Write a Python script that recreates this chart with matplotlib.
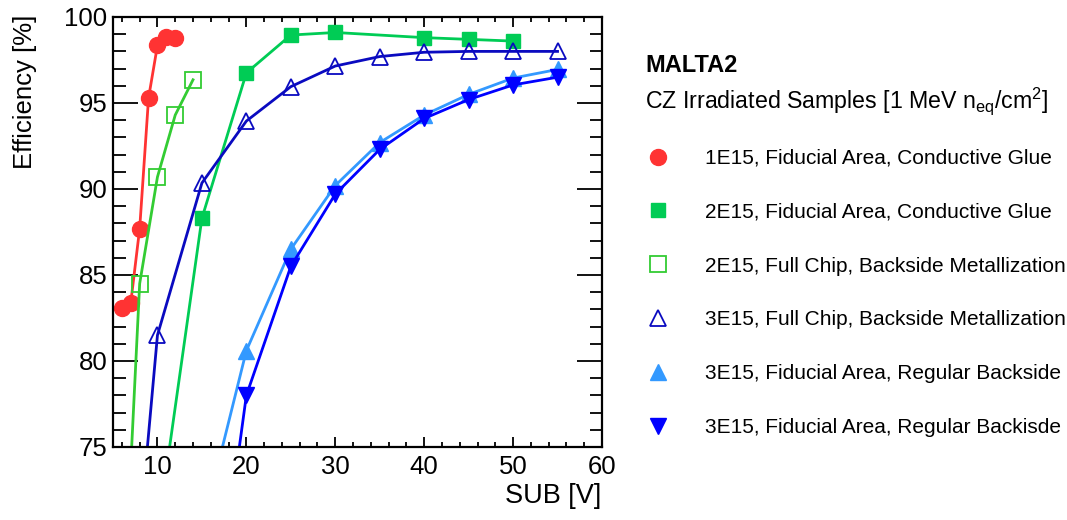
import matplotlib
matplotlib.use("Agg")
import matplotlib.pyplot as plt
from matplotlib.lines import Line2D
from matplotlib.ticker import MultipleLocator

plt.rcParams['font.family'] = ['Liberation Sans', 'DejaVu Sans']
plt.rcParams['mathtext.fontset'] = 'custom'
plt.rcParams['mathtext.rm'] = 'Liberation Sans'
plt.rcParams['mathtext.it'] = 'Liberation Sans'

# ---- data ----
x_1e15_fid = [6, 7, 8, 9, 10, 11, 12]
y_1e15_fid = [83.1, 83.4, 87.7, 95.3, 98.35, 98.85, 98.8]

x_2e15_fid = [10, 15, 20, 25, 30, 40, 45, 50]
y_2e15_fid = [70.0, 88.3, 96.75, 98.95, 99.1, 98.8, 98.7, 98.6]

x_2e15_full = [6, 8, 10, 12, 14]
y_2e15_full = [63.4, 84.5, 90.7, 94.3, 96.35]

x_3e15_full = [8, 10, 15, 20, 25, 30, 35, 40, 45, 50, 55]
y_3e15_full = [70.0, 81.5, 90.35, 93.95, 95.95, 97.15, 97.7, 97.95, 98.0, 98.0, 98.0]

x_3e15_reg = [15, 20, 25, 30, 35, 40, 45, 50, 55]
y_3e15_reg = [70.2, 80.6, 86.5, 90.2, 92.7, 94.3, 95.5, 96.45, 96.95]

x_3e15_reg2 = [15, 20, 25, 30, 35, 40, 45, 50, 55]
y_3e15_reg2 = [59.0, 78.0, 85.5, 89.7, 92.3, 94.1, 95.2, 96.05, 96.5]

labels = [
    "1E15, Fiducial Area, Conductive Glue",
    "2E15, Fiducial Area, Conductive Glue",
    "2E15, Full Chip, Backside Metallization",
    "3E15, Full Chip, Backside Metallization",
    "3E15, Fiducial Area, Regular Backside",
    "3E15, Fiducial Area, Regular Backisde",
]

W, H = 1067, 520
fig = plt.figure(figsize=(W / 100, H / 100), dpi=100)
ax = fig.add_axes([113 / W, 1 - 447 / H, (602 - 113) / W, (447 - 17) / H])

styles = [
    dict(color='#ff3333', marker='o', ms=11.5, mfc='#ff3333', mec='#ff3333'),
    dict(color='#00cc55', marker='s', ms=10.5, mfc='#00cc55', mec='#00cc55'),
    dict(color='#33cc33', marker='s', ms=11, mfc='none', mec='#33cc33', mew=1.3),
    dict(color='#0a0ac0', marker='^', ms=12, mfc='none', mec='#0a0ac0', mew=1.3),
    dict(color='#3399ff', marker='^', ms=11, mfc='#3399ff', mec='#3399ff'),
    dict(color='#0000ff', marker='v', ms=11, mfc='#0000ff', mec='#0000ff'),
]
series = [
    (x_1e15_fid, y_1e15_fid),
    (x_2e15_fid, y_2e15_fid),
    (x_2e15_full, y_2e15_full),
    (x_3e15_full, y_3e15_full),
    (x_3e15_reg, y_3e15_reg),
    (x_3e15_reg2, y_3e15_reg2),
]
handles = []
for (xs, ys), st in zip(series, styles):
    ax.plot(xs, ys, lw=2.0, **st)
    hs = {k: v for k, v in st.items() if k != 'color'}
    handles.append(Line2D([], [], ls='none', **hs))

ax.set_xlim(5, 60)
ax.set_ylim(75, 100)
ax.xaxis.set_major_locator(MultipleLocator(10))
ax.xaxis.set_minor_locator(MultipleLocator(2))
ax.yaxis.set_major_locator(MultipleLocator(5))
ax.yaxis.set_minor_locator(MultipleLocator(1))
ax.tick_params(axis='both', which='both', direction='in', top=True, right=True,
               labelsize=18.5, width=1.3)
ax.tick_params(axis='x', which='major', length=7, pad=6)
ax.tick_params(axis='x', which='minor', length=3.5)
ax.tick_params(axis='y', which='major', length=18, pad=4)
ax.tick_params(axis='y', which='minor', length=9)
for s in ax.spines.values():
    s.set_linewidth(1.6)

fig.text(25 / W, 1 - 15 / H, "Efficiency [%]", rotation=90, ha='center', va='top', fontsize=18.5)
fig.text(601 / W, 1 - 496 / H, "SUB [V]", ha='right', va='center', fontsize=19.5)

fig.text(645 / W, 1 - 66 / H, "MALTA2", ha='left', va='center', fontsize=17, fontweight='bold')
fig.text(645 / W, 1 - 101 / H,
         r"CZ Irradiated Samples [1 MeV n$_{\mathrm{eq}}$/cm$^{\mathrm{2}}$]",
         ha='left', va='center', fontsize=16.7)

fig.legend(handles, labels, loc='upper left', bbox_to_anchor=(640 / W, 1 - 149 / H),
           frameon=False, fontsize=15, labelspacing=1.67, handletextpad=1.39,
           handlelength=1.73, borderaxespad=0, borderpad=0)

fig.savefig("out.png", dpi=100)
